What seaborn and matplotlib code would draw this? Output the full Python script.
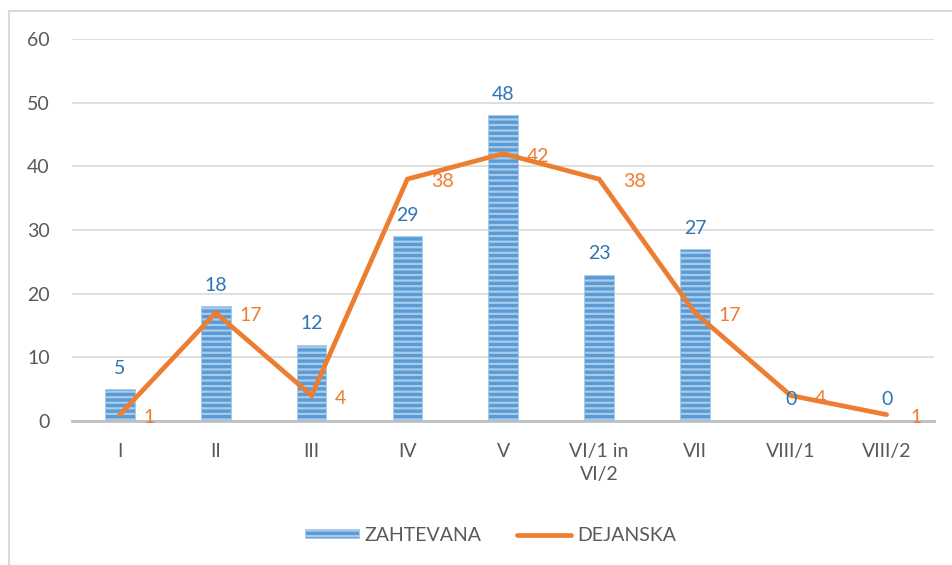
import numpy as np
import seaborn as sns
import matplotlib.pyplot as plt
from matplotlib.patches import Patch
from matplotlib.lines import Line2D

# Chart data
categories = ['I', 'II', 'III', 'IV', 'V', 'VI/1 in\nVI/2', 'VII', 'VIII/1', 'VIII/2']
zahtevana = [5, 18, 12, 29, 48, 23, 27, 0, 0]
dejanska = [1, 17, 4, 38, 42, 38, 17, 4, 1]
y_ticks = [0, 10, 20, 30, 40, 50, 60]

# Colours
bar_blue = '#5b9bd5'
stripe_blue = '#a9cbeb'
label_blue = '#2e75b6'
line_orange = '#ed7d31'
text_gray = '#595959'

sns.set_theme(style='white')
plt.rcParams['font.family'] = ['Lato', 'DejaVu Sans']
plt.rcParams['hatch.linewidth'] = 1.6

fig = plt.figure(figsize=(9.52, 5.65), dpi=100)
ax = fig.add_axes([0.0756, 0.2549, 0.906, 0.676])

# Bars
sns.barplot(x=categories, y=zahtevana, color=bar_blue, saturation=1,
            width=0.31, ax=ax)
for p in ax.patches:
    p.set_hatch('---')
    p.set_edgecolor(stripe_blue)
    p.set_linewidth(0.6)

# Line
xs = np.arange(len(categories))
ax.plot(xs, dejanska, color=line_orange, linewidth=3.4,
        solid_capstyle='round', solid_joinstyle='miter', zorder=3)

# Data labels
for x, v in zip(xs, zahtevana):
    ax.annotate(str(v), (x, v), xytext=(0, 9), textcoords='offset points',
                ha='center', va='bottom', color=label_blue, fontsize=14, zorder=4)
for x, v in zip(xs, dejanska):
    ax.annotate(str(v), (x, v), xytext=(17, -2), textcoords='offset points',
                ha='left', va='center', color=line_orange, fontsize=14, zorder=4)

# Axes styling
ax.set_xlim(-0.5, len(categories) - 0.5)
ax.set_ylim(0, 60)
ax.set_yticks(y_ticks)
ax.yaxis.grid(True, color='#d9d9d9', linewidth=1.2)
ax.set_axisbelow(True)
for s in ['left', 'right', 'top']:
    ax.spines[s].set_visible(False)
ax.spines['bottom'].set_color('#bfbfbf')
ax.spines['bottom'].set_linewidth(2)
ax.tick_params(axis='y', length=0, pad=16, labelsize=14, labelcolor=text_gray)
ax.tick_params(axis='x', length=0, pad=16, labelsize=14, labelcolor=text_gray)
ax.set_xticks(xs)
ax.set_xticklabels(categories, linespacing=1.4, va='top')

# Legend
handles = [Patch(facecolor=bar_blue, edgecolor=stripe_blue, hatch='---', linewidth=0.6),
           Line2D([0], [0], color=line_orange, linewidth=3.4, solid_capstyle='round')]
leg = fig.legend(handles, ['ZAHTEVANA', 'DEJANSKA'], loc='center',
                 bbox_to_anchor=(0.515, 0.053), ncol=2, frameon=False,
                 fontsize=14, handlelength=2.8, handleheight=0.35,
                 columnspacing=1.8, handletextpad=0.3)
for t in leg.get_texts():
    t.set_color(text_gray)

# Chart frame (top and left edges visible)
fig.add_artist(Line2D([9 / 952, 1], [1 - 11 / 565, 1 - 11 / 565],
                      transform=fig.transFigure, color='#d9d9d9', linewidth=1.5))
fig.add_artist(Line2D([9 / 952, 9 / 952], [0, 1 - 11 / 565],
                      transform=fig.transFigure, color='#d9d9d9', linewidth=1.5))

fig.savefig('out.png', dpi=100)
